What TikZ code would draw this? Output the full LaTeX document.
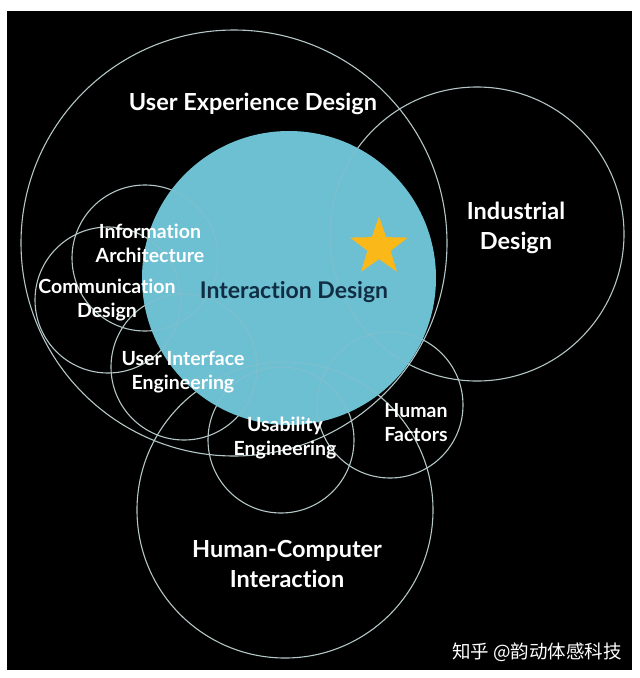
\documentclass[tikz,border=0pt]{standalone}
\usepackage{fontspec}
\setmainfont{Lato}[Ligatures=NoCommon]
\newfontfamily\cjk{Noto Sans CJK SC}
\usetikzlibrary{shapes.geometric}
\definecolor{tealfill}{RGB}{109,191,210}
\definecolor{ringc}{RGB}{180,198,198}
\definecolor{navy}{RGB}{16,45,68}
\definecolor{starc}{RGB}{250,185,25}
\begin{document}
\begin{tikzpicture}[x=1pt,y=-1pt,
  ring/.style={draw=ringc, line width=1.1pt},
  lab/.style={text=white, font=\bfseries\fontsize{19.5}{24}\selectfont, align=center, inner sep=0pt},
  big/.style={lab, font=\bfseries\fontsize{23.5}{29.5}\selectfont}]
\useasboundingbox (0,0) rectangle (640,678);
\fill[white] (0,0) rectangle (640,678);
\fill[black] (7,11) rectangle (632,670);
% rings
\def\rings{%
\draw[ring] (234,243) circle (213);
\draw[ring] (477,234) circle (147);
\draw[ring] (145,258) circle (73);
\draw[ring] (108,300) circle (73);
\draw[ring] (184,367) circle (73);
\draw[ring] (281,440) circle (73);
\draw[ring] (390,405) circle (73);
\draw[ring] (285,510) circle (148);}
\rings
% interaction design disc
\fill[tealfill] (289,278) circle (147);
\begin{scope}
\clip (289,278) circle (147);
\begin{scope}[draw opacity=0.22]
\rings
\end{scope}
\end{scope}
\node[star, star points=5, star point ratio=2.5, fill=starc, minimum size=61pt, inner sep=0pt] (star) at (379,247) {};
% labels
\node[big] (ux) at (253,104) {User Experience Design};
\node[big] (ind) at (516,228) {Industrial\\Design};
\node[big, text=navy, font=\bfseries\fontsize{23}{28}\selectfont] (ixd) at (294,292) {Interaction Design};
\node[lab] (ia) at (150,243) {Information\\Architecture};
\node[lab] (cd) at (107,300) {Communication\\Design};
\node[lab] (uie) at (183,372) {User Interface\\Engineering};
\node[lab] (ue) at (285,438) {Usability\\Engineering};
\node[lab] (hf) at (416,423) {Human\\Factors};
\node[big] (hci) at (287,564) {Human-Computer\\Interaction};
\node[text=white, font=\cjk\fontsize{18.5}{20}\selectfont, inner sep=0pt] (wm) at (537,652) {知乎 @韵动体感科技};
\end{tikzpicture}
\end{document}
